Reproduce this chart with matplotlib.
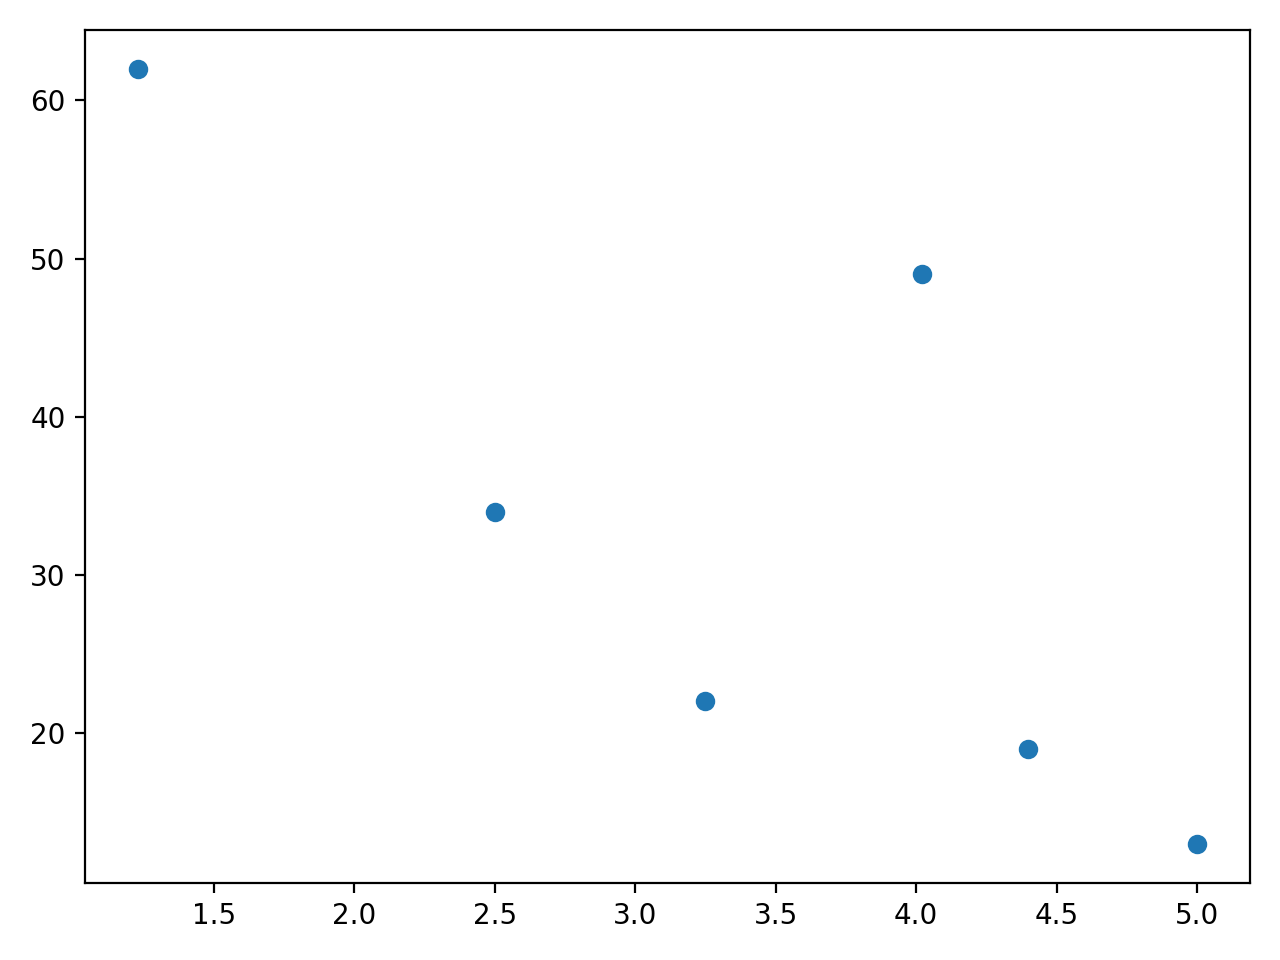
import matplotlib
matplotlib.use("Agg")
import matplotlib.pyplot as plt

x_values = [1.23, 2.5, 3.25, 4.02, 4.4, 5.0]
y_values = [62, 34, 22, 49, 19, 13]

fig, ax = plt.subplots(figsize=(6.4, 4.8), dpi=200)
ax.scatter(x_values, y_values)
fig.tight_layout()
fig.savefig("out.png")
